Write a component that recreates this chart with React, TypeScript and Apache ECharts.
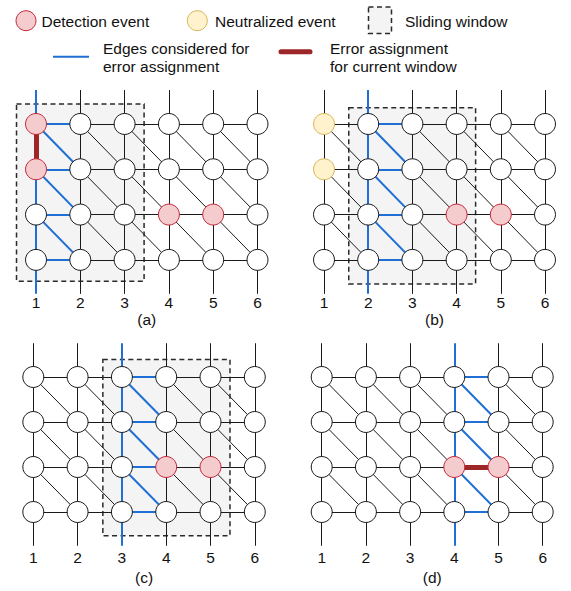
import React, { useEffect, useRef } from "react";
import * as echarts from "echarts";

// ---- data ----
const colTicks = [1, 2, 3, 4, 5, 6];
const rowValues = [1, 2, 3, 4];
const panelLabels = ["(a)", "(b)", "(c)", "(d)"];
const activeColumns = [1, 2, 3, 4];
const detectionNodes = [
  [[1, 1], [1, 2], [4, 3], [5, 3]],
  [[4, 3], [5, 3]],
  [[4, 3], [5, 3]],
  [[4, 3], [5, 3]],
];
const neutralizedNodes = [[], [[1, 1], [1, 2]], [], []];
const errorEdges = [[[1, 1], [1, 2]], null, null, [[4, 3], [5, 3]]];
// [xMin, yMin, xMax, yMax] in grid units
const slidingWindows = [
  [0.56, 0.56, 3.44, 4.47],
  [1.56, 0.64, 4.43, 4.53],
  [2.57, 0.61, 5.44, 4.53],
  null,
];
const stubTop = 0.25;
const stubBottom = 4.75;

// ---- layout / style ----
const FONT = "'Liberation Sans', Arial, Helvetica, sans-serif";
const FS = 15.5;
const BLACK = "#1a1a1a";
const BLUE = "#1f6fd4";
const ERR = "#9c2628";
const RED_FILL = "#f5cccd";
const RED_STROKE = "#c3283b";
const YEL_FILL = "#fff2cc";
const YEL_STROKE = "#d6b656";

const grids = [
  { left: 13.85, top: 90, width: 265.8, height: 203.85, labelMargin: 1, nameGap: 16.5 },
  { left: 301.9, top: 90, width: 265.2, height: 203.85, labelMargin: 1, nameGap: 16.5 },
  { left: 11.15, top: 343.25, width: 265.8, height: 202.5, labelMargin: 4, nameGap: 23.5 },
  { left: 299.6, top: 343.25, width: 265.2, height: 202.5, labelMargin: 4, nameGap: 23.5 },
];

function buildEdges(active: number) {
  const black: any[] = [];
  const blue: any[] = [];
  const push = (c: number, coords: number[][]) => (c === active ? blue : black).push({ coords });
  colTicks.forEach((c) => push(c, [[c, stubTop], [c, stubBottom]]));
  rowValues.forEach((r) => {
    colTicks.slice(0, -1).forEach((c) => push(c, [[c, r], [c + 1, r]]));
  });
  rowValues.slice(0, -1).forEach((r) => {
    colTicks.slice(0, -1).forEach((c) => push(c, [[c, r], [c + 1, r + 1]]));
  });
  return { black, blue };
}

function has(list: number[][], c: number, r: number) {
  return list.some((p) => p[0] === c && p[1] === r);
}

function buildOption() {
  const series: any[] = [];
  grids.forEach((_, i) => {
    const { black, blue } = buildEdges(activeColumns[i]);
    const win = slidingWindows[i];
    series.push({
      type: "lines",
      coordinateSystem: "cartesian2d",
      xAxisIndex: i,
      yAxisIndex: i,
      silent: true,
      z: 2,
      lineStyle: { color: BLACK, width: 1, opacity: 1 },
      data: black,
      markArea: win
        ? {
            silent: true,
            itemStyle: {
              color: "#f4f4f4",
              borderColor: "#2a2a2a",
              borderWidth: 1.5,
              borderType: [5, 3.5],
            },
            data: [[{ coord: [win[0], win[1]] }, { coord: [win[2], win[3]] }]],
          }
        : undefined,
    });
    series.push({
      type: "lines",
      coordinateSystem: "cartesian2d",
      xAxisIndex: i,
      yAxisIndex: i,
      silent: true,
      z: 3,
      lineStyle: { color: BLUE, width: 2, opacity: 1 },
      data: blue,
    });
    const err = errorEdges[i];
    if (err) {
      series.push({
        type: "lines",
        coordinateSystem: "cartesian2d",
        xAxisIndex: i,
        yAxisIndex: i,
        silent: true,
        z: 4,
        lineStyle: { color: ERR, width: 5, opacity: 1, cap: "round" },
        data: [{ coords: err }],
      });
    }
    const nodes: any[] = [];
    colTicks.forEach((c) =>
      rowValues.forEach((r) => {
        let style = { color: "#ffffff", borderColor: BLACK, borderWidth: 1, opacity: 1 };
        if (has(detectionNodes[i], c, r))
          style = { color: RED_FILL, borderColor: RED_STROKE, borderWidth: 1, opacity: 1 };
        else if (has(neutralizedNodes[i], c, r))
          style = { color: YEL_FILL, borderColor: YEL_STROKE, borderWidth: 1, opacity: 1 };
        nodes.push({ value: [c, r], itemStyle: style });
      })
    );
    series.push({
      type: "scatter",
      xAxisIndex: i,
      yAxisIndex: i,
      silent: true,
      z: 5,
      symbol: "circle",
      symbolSize: 21,
      itemStyle: { opacity: 1 },
      data: nodes,
    });
  });

  const txt = (text: string, x: number, y: number) => ({
    type: "text",
    x,
    y,
    style: { text, font: `${FS}px ${FONT}`, fill: "#111", textVerticalAlign: "middle", verticalAlign: "middle" },
  });

  const graphic: any[] = [
    { type: "circle", shape: { cx: 26, cy: 20.7, r: 10 }, style: { fill: RED_FILL, stroke: RED_STROKE, lineWidth: 1 } },
    txt("Detection event", 41.5, 21),
    { type: "circle", shape: { cx: 197.3, cy: 20.7, r: 10 }, style: { fill: YEL_FILL, stroke: YEL_STROKE, lineWidth: 1 } },
    txt("Neutralized event", 215, 21),
    {
      type: "rect",
      shape: { x: 368.5, y: 7, width: 23, height: 26.5 },
      style: { fill: "#f4f4f4", stroke: "#2a2a2a", lineWidth: 1.5, lineDash: [5, 3.5] },
    },
    txt("Sliding window", 405, 21),
    { type: "line", shape: { x1: 53, y1: 56.7, x2: 89, y2: 56.7 }, style: { stroke: BLUE, lineWidth: 2 } },
    txt("Edges considered for", 103, 48),
    txt("error assignment", 103, 66),
    { type: "line", shape: { x1: 281, y1: 51.7, x2: 310, y2: 51.7 }, style: { stroke: ERR, lineWidth: 5, lineCap: "round" } },
    txt("Error assignment", 330, 48),
    txt("for current window", 330, 66),
  ];

  return {
    animation: false,
    backgroundColor: "#ffffff",
    graphic,
    grid: grids.map((g) => ({
      left: g.left,
      top: g.top,
      width: g.width,
      height: g.height,
      containLabel: false,
      outerBoundsMode: "none",
    })),
    xAxis: grids.map((g, i) => ({
      gridIndex: i,
      type: "value",
      min: 0.5,
      max: 6.5,
      position: "bottom",
      axisLine: { show: false, onZero: false },
      axisTick: { show: false },
      splitLine: { show: false },
      axisLabel: {
        customValues: colTicks,
        formatter: (v: number) => String(v),
        margin: g.labelMargin,
        fontSize: FS,
        fontFamily: FONT,
        color: "#111",
      },
      name: panelLabels[i],
      nameLocation: "middle",
      nameGap: g.nameGap,
      nameTextStyle: { fontSize: FS, fontFamily: FONT, color: "#111" },
    })),
    yAxis: grids.map((_, i) => ({
      gridIndex: i,
      type: "value",
      min: stubTop,
      max: stubBottom,
      inverse: true,
      show: false,
    })),
    series,
  };
}

export default function App() {
  const ref = useRef<HTMLDivElement>(null);
  useEffect(() => {
    if (!ref.current) return;
    const chart = echarts.init(ref.current, null, { renderer: "svg" });
    chart.setOption(buildOption() as any);
    return () => chart.dispose();
  }, []);
  return (
    <div
      ref={ref}
      style={{ position: "absolute", left: 0, top: 0, width: 571, height: 591, background: "#fff" }}
    />
  );
}
